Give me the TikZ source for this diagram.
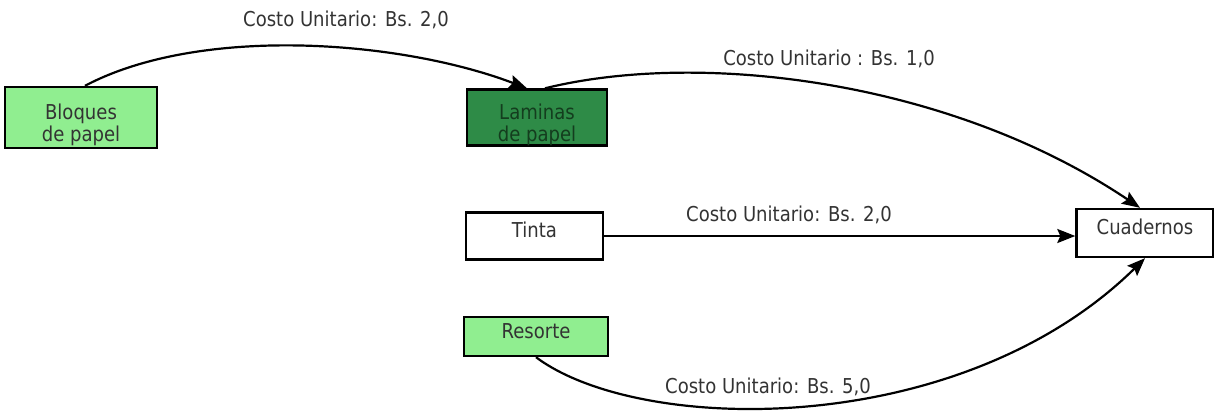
\documentclass[tikz,border=0pt]{standalone}
\usepackage{fontspec}
\setmainfont{DejaVu Sans}[FakeStretch=0.88]
\usetikzlibrary{arrows.meta}
\definecolor{verdeclaro}{HTML}{90EE90}
\definecolor{verdeoscuro}{HTML}{2E8B47}
\definecolor{textoverde}{HTML}{143D1E}
\definecolor{texto}{HTML}{333333}
\begin{document}
\begin{tikzpicture}[x=1pt,y=-1pt,
    font=\fontsize{20.5}{22}\selectfont, text=texto,
    caja/.style={draw=black, line width=2.4pt, inner sep=0pt, align=center},
    dos lineas/.style={text height=50pt, text depth=2pt},
    una linea/.style={text height=15.5pt, text depth=12pt},
    flecha/.style={line width=2.2pt, -{Stealth[length=18pt,width=14pt,inset=3pt]}},
    costo/.style={inner sep=0pt}]
    \useasboundingbox (0,0) rectangle (1214,410);
    % materiales
    \node[caja, dos lineas, fill=verdeclaro, minimum width=152pt, minimum height=61pt] (bloques) at (81,117.5) {Bloques\\de papel};
    \node[caja, dos lineas, fill=verdeoscuro, text=textoverde, minimum width=140pt, minimum height=56pt] (laminas) at (537,117.5) {Laminas\\de papel};
    \node[caja, una linea, fill=white, minimum width=137pt, minimum height=47pt] (tinta) at (534.5,236) {Tinta};
    \node[caja, una linea, fill=verdeclaro, minimum width=144pt, minimum height=39pt] (resorte) at (536,336.5) {Resorte};
    \node[caja, una linea, fill=white, minimum width=137pt, minimum height=48pt] (cuadernos) at (1145,233) {Cuadernos};
    % costos
    \node[costo] (c1) at (346,20) {Costo Unitario: Bs. 2,0};
    \node[costo] (c2) at (829,59) {Costo Unitario : Bs. 1,0};
    \node[costo] (c3) at (789,215) {Costo Unitario: Bs. 2,0};
    \node[costo] (c4) at (768,387) {Costo Unitario: Bs. 5,0};
    % flujos
    \draw[flecha] ([xshift=4pt]bloques.north) .. controls (200,25) and (400,40) .. ([xshift=-10pt]laminas.north);
    \draw[flecha] ([xshift=8pt]laminas.north) .. controls (700,50) and (950,80) .. ([xshift=-5pt]cuadernos.north);
    \draw[flecha] (tinta.east) -- (tinta.east -| cuadernos.west);
    \draw[flecha] (resorte.south) .. controls (640,435) and (960,440) .. (cuadernos.south);
\end{tikzpicture}
\end{document}
